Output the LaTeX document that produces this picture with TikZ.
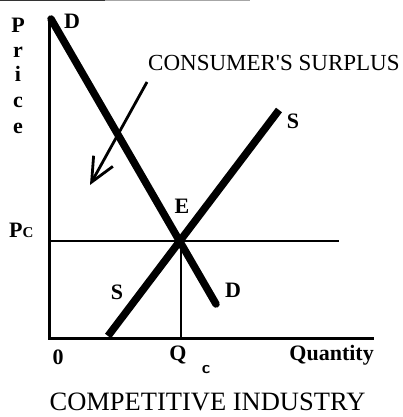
\documentclass[tikz,border=0pt]{standalone}
\usepackage{fontspec}
\setmainfont{Liberation Serif}
\usetikzlibrary{arrows.meta}
\begin{document}
\begin{tikzpicture}[x=1pt,y=-1pt,
  axis/.style={line width=3pt},
  thin guide/.style={line width=2.4pt},
  curve/.style={line width=7.5pt,line cap=round},
  lbl/.style={inner sep=0pt,font=\fontsize{22}{22}\selectfont\bfseries},
  ann/.style={inner sep=0pt,font=\fontsize{23}{23}\selectfont}]
\useasboundingbox (0,0) rectangle (402,417);
% scan edge at top
\draw[line width=1.2pt,black!80] (0,0.6) -- (105,0.6);
\draw[line width=0.8pt,black!35] (105,0.6) -- (250,0.6);
% coordinates
\coordinate (O) at (49,338);
\coordinate (Ytop) at (49,17);
\coordinate (Xend) at (374,338);
\coordinate (E) at (180,241);
\coordinate (PcL) at (49,241);
\coordinate (PcR) at (339,241);
\coordinate (Qc) at (181,338);
\coordinate (Qtop) at (181,241);
\coordinate (Dtop) at (51,19);
\coordinate (Dbot) at (216,304);
\coordinate (Sbot) at (108,336);
\coordinate (Stop) at (279,110);
\coordinate (Astart) at (147,82);
\coordinate (Atip) at (90,185);
% axes
\draw[axis] (Ytop) -- (O) -- (Xend);
\draw[thin guide] (PcL) -- (PcR);
\draw[line width=2pt] (Qtop) -- (Qc);
% curves
\draw[curve] (Dtop) -- (Dbot);
\draw[curve,line cap=butt] (Sbot) -- (Stop);
% arrow
\draw[line width=2.8pt,-{Straight Barb[length=24pt,width=22pt,line width=2.8pt]}] (Astart) -- (Atip);
% labels
\node[lbl] (lD1) at (72,21) {D};
\node[lbl] (lS1) at (293,121) {S};
\node[lbl] (lE) at (182,206) {E};
\node[lbl] (lS2) at (117,292) {S};
\node[lbl] (lD2) at (233,290) {D};
\node[lbl,anchor=base west] (lPc) at (9,237) {P\fontsize{15}{15}\selectfont C};
\node[lbl] (l0) at (58,357) {0};
\node[lbl] (lQ) at (178,355) {Q};
\node[lbl,font=\fontsize{17}{17}\selectfont\bfseries\sffamily] (lc) at (206,370) {c};
\node[lbl,anchor=east] (lQty) at (374,355) {Quantity};
\node[ann,anchor=west] (cs) at (148,63) {CONSUMER\textquotesingle S SURPLUS};
\node[ann,anchor=base,font=\fontsize{26.5}{26.5}\selectfont] (ci) at (207.5,410.5) {COMPETITIVE INDUSTRY};
% Price, vertical
\node[lbl] (p1) at (18,25) {P};
\node[lbl] (p2) at (18,52) {r};
\node[lbl] (p3) at (18,74) {i};
\node[lbl] (p4) at (18,102) {c};
\node[lbl] (p5) at (18,128) {e};
\end{tikzpicture}
\end{document}
